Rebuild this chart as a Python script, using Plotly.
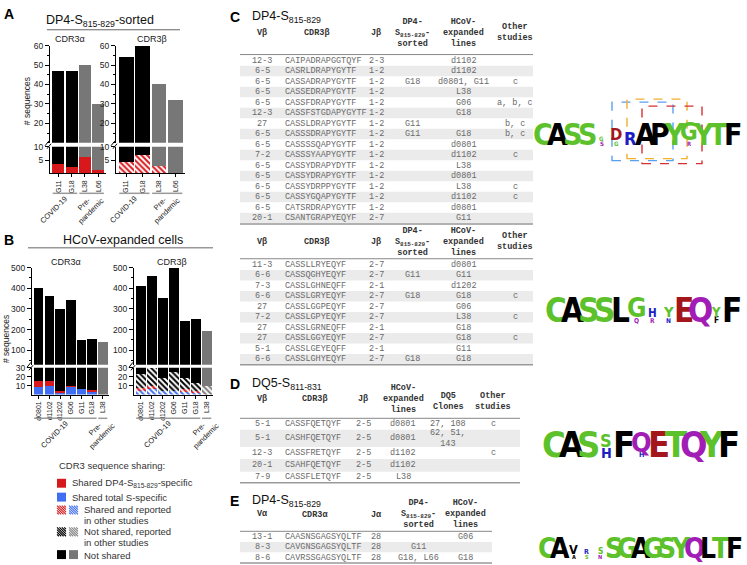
import plotly.graph_objects as go

W, H = 747, 565
def X(p): return p / W
def Y(p): return 1 - p / H

SANS = "Liberation Sans, Arial, Helvetica, sans-serif"
MONO = "Liberation Mono, Courier New, monospace"
NARROW = "Noto Sans ExtraCondensed, Noto Sans Condensed, Liberation Sans Narrow, Arial Narrow, DejaVu Sans Condensed, sans-serif"

RED = "#d7191c"; BLUE = "#3f6ef2"; BLACK = "#000000"; GRAY = "#777777"
LG = "#5cc12a"; LK = "#000000"; LR = "#a3161b"; LB = "#1d1dc6"; LP = "#a11db5"

# ---------------- data: panel A ----------------
A_cats = ["G11", "G18", "L38", "L66"]
A_groups = ["COVID-19", "COVID-19", "Pre-pandemic", "Pre-pandemic"]
A_alpha_total = [47, 47, 50, 30]
A_alpha_shared_dp4 = [3.5, 2.5, 6, 1.2]
A_beta_total = [54, 60, 40, 32]
A_beta_shared_reported = [4.3, 7, 2.7, 0]

# ---------------- data: panel B ----------------
B_cats = ["d0801", "d1102", "d1202", "G06", "G11", "G18", "L38"]
B_groups = ["COVID-19"] * 6 + ["Pre-pandemic"]
B_alpha_total = [400, 365, 300, 343, 150, 155, 138]
B_alpha_shared_S = [8, 10, 2, 9, 6, 4, 0]
B_alpha_shared_dp4 = [7, 5, 2, 1, 0, 1, 0]
B_beta_total = [412, 460, 355, 500, 240, 252, 193]
B_beta_shared_S_reported = [5, 7, 4, 4, 3, 2, 0]
B_beta_shared_dp4_reported = [2, 2, 0, 0, 3, 2, 0]
B_beta_reported_top = [23, 30, 19, 25, 18, 13, 9]

# ---------------- data: panel C ----------------
C1_vb = ["12-3", "6-5", "6-5", "6-5", "6-5", "12-3", "27", "6-5", "6-5", "7-2", "6-5", "6-5", "6-5", "6-5", "6-5", "20-1"]
C1_cdr3 = ["CAIPADRAPGGTQYF", "CASRLDRAPYGYTF", "CASSADRAPYGYTF", "CASSEDRAPYGYTF", "CASSFDRAPYGYTF",
           "CASSFSTGDAPYGYTF", "CASSLDRAPYGYTF", "CASSSDRAPYGYTF", "CASSSSQAPYGYTF", "CASSSYAAPYGYTF",
           "CASSYDRAPYDYTF", "CASSYDRAPYGYTF", "CASSYDRPPYGYTF", "CASSYGQAPYGYTF", "CATSRDRAPYGYTF", "CSANTGRAPYEQYF"]
C1_j = ["2-3"] + ["1-2"] * 14 + ["2-7"]
C1_dp4 = ["", "", "G18", "", "", "", "G11", "G11", "", "", "", "", "", "", "", ""]
C1_hcov = ["d1102", "d1102", "d0801, G11", "L38", "G06", "G18", "", "G18", "d0801", "d1102", "L38", "d0801", "L38", "d1102", "d0801", "G11"]
C1_other = ["", "", "c", "", "a, b, c", "", "b, c", "b, c", "", "c", "", "", "c", "c", "", ""]

C2_vb = ["11-3", "6-6", "7-3", "6-6", "27", "7-2", "27", "27", "5-1", "6-6"]
C2_cdr3 = ["CASSLLRYEQYF", "CASSQGHYEQYF", "CASSLGHNEQFF", "CASSLGRYEQYF", "CASSLGGPEQYF",
           "CASSLGPYEQYF", "CASSLGRNEQFF", "CASSLGGYEQYF", "CASSLGEYEQFF", "CASSLGHYEQYF"]
C2_j = ["2-7", "2-7", "2-1", "2-7", "2-7", "2-7", "2-1", "2-7", "2-1", "2-7"]
C2_dp4 = ["", "G11", "", "G18", "", "", "", "", "", "G18"]
C2_hcov = ["d0801", "G11", "d1202", "G18", "G06", "L38", "G18", "G18", "G11", "G18"]
C2_other = ["", "", "", "c", "", "c", "", "c", "", ""]

# ---------------- data: panel D ----------------
D_vb = ["5-1", "5-1", "12-3", "20-1", "7-9"]
D_cdr3 = ["CASSFQETQYF", "CASHFQETQYF", "CASSFRETQYF", "CSAHFQETQYF", "CASSFLETQYF"]
D_j = ["2-5", "2-5", "2-5", "2-5", "2-5"]
D_hcov = ["d0801", "d0801", "d1102", "d1102", "L38"]
D_clones = ["27, 108", "62, 51,<br>143", "", "", ""]
D_other = ["c", "", "c", "", ""]

# ---------------- data: panel E ----------------
E_va = ["13-1", "8-3", "8-6"]
E_cdr3 = ["CAASNSGAGSYQLTF", "CAVGNSGAGSYQLTF", "CAVRSSGAGSYQLTF"]
E_j = ["28", "28", "28"]
E_dp4 = ["", "G11", "G18, L66"]
E_hcov = ["G06", "", "G18"]

# ---------------- data: sequence logos (letter, colour, relative height), bottom to top ----------------
LOGO1 = [[("C", LG, 1)], [("A", LK, 1)], [("S", LG, 1)], [("S", LG, 1)],
         [("S", LP, 0.2), ("G", LG, 0.2)], [("G", LG, 0.2), ("D", LR, 0.55)], [("R", LB, 0.6)],
         [("A", LK, 1)], [("P", LK, 1)], [("Y", LG, 1)], [("R", LP, 0.2), ("G", LG, 0.8)],
         [("Y", LG, 1)], [("T", LG, 1)], [("F", LK, 1)]]
LOGO2 = [[("C", LG, 1)], [("A", LK, 1)], [("S", LG, 1)], [("S", LG, 1)], [("L", LK, 1)],
         [("Q", LP, 0.2), ("G", LG, 0.8)], [("R", LP, 0.2), ("H", LB, 0.35)], [("N", LB, 0.2), ("Y", LG, 0.45)],
         [("E", LR, 1)], [("Q", LP, 1)], [("F", LK, 0.25), ("Y", LG, 0.4)], [("F", LK, 1)]]
LOGO3 = [[("C", LG, 1)], [("A", LK, 1)], [("S", LG, 1)], [("H", LB, 0.4), ("S", LG, 0.5)],
         [("F", LK, 1)], [("H", LB, 0.2), ("Q", LP, 0.75)], [("E", LR, 1)], [("T", LG, 1)],
         [("Q", LP, 1)], [("Y", LG, 1)], [("F", LK, 1)]]
LOGO4 = [[("C", LG, 1)], [("A", LK, 1)], [("A", LK, 0.2), ("V", LK, 0.45)], [("S", LG, 0.2), ("R", LB, 0.25)],
         [("N", LP, 0.2), ("S", LG, 0.3)], [("S", LG, 1)], [("G", LG, 1)], [("A", LK, 1)], [("G", LG, 1)],
         [("S", LG, 1)], [("Y", LG, 1)], [("Q", LP, 1)], [("L", LK, 1)], [("T", LG, 1)], [("F", LK, 1)]]

fig = go.Figure()
annotations = []
shapes = []
layout_axes = {}

def ann(x, y, text, size=10, color="#222", family=SANS, xanchor="center", yanchor="middle", angle=0, align="center"):
    annotations.append(dict(x=X(x), y=Y(y), xref="paper", yref="paper", text=text, showarrow=False,
                            font=dict(size=size, color=color, family=family), xanchor=xanchor,
                            yanchor=yanchor, textangle=angle, align=align))

def line(x0, y0, x1, y1, color="#888", width=1, dash="solid"):
    shapes.append(dict(type="line", xref="paper", yref="paper", x0=X(x0), x1=X(x1), y0=Y(y0), y1=Y(y1),
                       line=dict(color=color, width=width, dash=dash)))

def rect(x0, y0, x1, y1, fill="rgba(0,0,0,0)", lc="rgba(0,0,0,0)", width=0, dash="solid"):
    shapes.append(dict(type="rect", xref="paper", yref="paper", x0=X(x0), x1=X(x1), y0=Y(y1), y1=Y(y0),
                       fillcolor=fill, line=dict(color=lc, width=width, dash=dash), layer="below" if width == 0 else "above"))

def axn(i, a):
    return a if i == 1 else f"{a}{i}"

def axk(i, a):
    return f"{a}axis" if i == 1 else f"{a}axis{i}"

def grp_colors(groups):
    return [BLACK if g == "COVID-19" else GRAY for g in groups]

def chart(il, iu, xdom, ylow, yup, cats, groups, lowr, lowt, upr, upt, minor_up, segments, group_y):
    n = len(cats)
    xr = [-0.62, n - 0.5 + 0.08]
    tickf = dict(size=7, family=SANS, color="#222")
    layout_axes[axk(il, "x")] = dict(domain=[X(xdom[0]), X(xdom[1])], anchor=axn(il, "y"), range=xr, type="category",
                                     showline=True, linecolor="black", linewidth=1, ticks="outside", ticklen=3,
                                     tickcolor="black", tickangle=-90, tickfont=tickf, showgrid=False, zeroline=False)
    layout_axes[axk(iu, "x")] = dict(domain=[X(xdom[0]), X(xdom[1])], anchor=axn(iu, "y"), range=xr, type="category",
                                     visible=False)
    yf = dict(size=8.5, family=SANS, color="#222")
    layout_axes[axk(il, "y")] = dict(domain=[Y(ylow[1]), Y(ylow[0])], anchor=axn(il, "x"), range=lowr, tickvals=lowt,
                                     showline=True, linecolor="black", linewidth=1, ticks="outside", ticklen=4,
                                     tickcolor="black", tickfont=yf, showgrid=False, zeroline=False)
    layout_axes[axk(iu, "y")] = dict(domain=[Y(yup[1]), Y(yup[0])], anchor=axn(iu, "x"), range=upr, tickvals=upt,
                                     showline=True, linecolor="black", linewidth=1, ticks="outside", ticklen=4,
                                     tickcolor="black", tickfont=yf, showgrid=False, zeroline=False,
                                     minor=dict(dtick=minor_up, tick0=0, ticks="outside", ticklen=2, tickcolor="black"))
    for vals, colors, hatch in segments:
        for i in (il, iu):
            marker = dict(color=colors, line=dict(width=0))
            if hatch:
                marker["pattern"] = dict(shape="\\", fillmode="replace", bgcolor="white", fgcolor=colors,
                                         size=4, solidity=0.5)
            fig.add_trace(go.Bar(x=cats, y=vals, marker=marker, xaxis=axn(i, "x"), yaxis=axn(i, "y"),
                                 showlegend=False, hoverinfo="skip"))
    # break marks
    ax = xdom[0]
    ym = (ylow[0] + yup[1]) / 2
    line(ax - 5, ym + 1, ax - 1, ym - 4, color="black", width=1)
    line(ax - 3, ym + 4, ax + 1, ym - 1, color="black", width=1)
    # group lines and labels
    wpx = xdom[1] - xdom[0]
    def cx(k):
        return xdom[0] + (k - xr[0]) / (xr[1] - xr[0]) * wpx
    pitch = wpx / (xr[1] - xr[0])
    seen = []
    for g in groups:
        if g not in seen:
            seen.append(g)
    for g in seen:
        idx = [k for k, gg in enumerate(groups) if gg == g]
        x0 = cx(idx[0]) - pitch * 0.42
        x1 = cx(idx[-1]) + pitch * 0.42
        line(x0, group_y, x1, group_y, color="#9a9a9a", width=1.5)
        c = (cx(idx[0]) + cx(idx[-1])) / 2
        if g == "COVID-19":
            ann(c - 11, group_y + 16, "COVID-19", size=7.5, angle=-45)
        else:
            ann(c - 4, group_y + 14, "Pre-<br>pandemic", size=7.5, angle=-45)

# Panel A charts
ca = grp_colors(A_groups)
chart(1, 2, (50, 106), (143, 170), (41, 139), A_cats, A_groups, [0, 10], [5, 10], [10, 60],
      [20, 30, 40, 50, 60], 5,
      [(A_alpha_shared_dp4, [RED] * 4, False),
       ([t - r for t, r in zip(A_alpha_total, A_alpha_shared_dp4)], ca, False)], 190)
chart(3, 4, (116, 185), (143, 170), (41, 139), A_cats, A_groups, [0, 10], [5, 10], [10, 60],
      [20, 30, 40, 50, 60], 5,
      [(A_beta_shared_reported, [RED] * 4, True),
       ([t - r for t, r in zip(A_beta_total, A_beta_shared_reported)], ca, False)], 190)

# Panel B charts
cb = grp_colors(B_groups)
chart(5, 6, (32, 109), (366, 393), (265, 363), B_cats, B_groups, [0, 30], [10, 20, 30], [30, 500],
      [100, 200, 300, 400, 500], 50,
      [(B_alpha_shared_S, [BLUE] * 7, False),
       (B_alpha_shared_dp4, [RED] * 7, False),
       ([t - s - d for t, s, d in zip(B_alpha_total, B_alpha_shared_S, B_alpha_shared_dp4)], cb, False)], 417)
chart(7, 8, (134, 213), (366, 393), (265, 363), B_cats, B_groups, [0, 30], [10, 20, 30], [30, 500],
      [100, 200, 300, 400, 500], 50,
      [(B_beta_shared_S_reported, [BLUE] * 7, True),
       (B_beta_shared_dp4_reported, [RED] * 7, True),
       ([r - s - d for r, s, d in zip(B_beta_reported_top, B_beta_shared_S_reported, B_beta_shared_dp4_reported)], cb, True),
       ([t - r for t, r in zip(B_beta_total, B_beta_reported_top)], cb, False)], 417)

# Panel titles
ann(2, 9, "<b>A</b>", size=14, color="black", xanchor="left")
ann(100, 16, "DP4-S<sub>815-829</sub>-sorted", size=12.5, color="#111")
line(47, 25, 180, 25, color="#666", width=1)
ann(70, 34, "CDR3α", size=9)
ann(152, 34, "CDR3β", size=9)
ann(27, 97, "# sequences", size=8.5, angle=-90)

ann(2, 237, "<b>B</b>", size=14, color="black", xanchor="left")
ann(123, 237, "HCoV-expanded cells", size=12.5, color="#111")
line(28, 245, 213, 245, color="#666", width=1)
ann(66, 259, "CDR3α", size=9)
ann(172, 259, "CDR3β", size=9)
ann(6, 337, "# sequences", size=8.5, angle=-90)

# Legend for bar charts
def hatch_square(x0, y0, s, color):
    rect(x0, y0, x0 + s, y0 + s, fill="white")
    step = 2.4
    k = -6
    while k <= 6:
        d = k * step
        u0 = max(0, d); u1 = min(s, s + d)
        if u1 - u0 > 0.4:
            line(x0 + u0, y0 + u0 - d, x0 + u1, y0 + u1 - d, color=color, width=1.1)
        k += 1

LEGF = 9.5
ann(57, 465, "CDR3 sequence sharing:", size=LEGF, xanchor="left", color="#333")
rect(57, 478, 66, 487, fill=RED)
ann(70, 482.5, "Shared DP4-S<sub>815-829</sub>-specific", size=LEGF, xanchor="left", color="#333")
rect(57, 492, 66, 501, fill=BLUE)
ann(70, 496.5, "Shared total S-specific", size=LEGF, xanchor="left", color="#333")
hatch_square(57, 505, 9, RED)
hatch_square(69, 505, 9, BLUE)
ann(82, 509.5, "Shared and reported", size=LEGF, xanchor="left", color="#333")
ann(82, 520, "in other studies", size=LEGF, xanchor="left", color="#333")
hatch_square(57, 527, 9, BLACK)
hatch_square(69, 527, 9, "#888888")
ann(82, 531.5, "Not shared, reported", size=LEGF, xanchor="left", color="#333")
ann(82, 542, "in other studies", size=LEGF, xanchor="left", color="#333")
rect(57, 550, 66, 559, fill=BLACK)
rect(69, 550, 78, 559, fill=GRAY)
ann(82, 555, "Not shared", size=LEGF, xanchor="left", color="#333")

# ---------------- tables ----------------
TF = 8.5
ROWC = "#6a6a6a"
HEADC = "#333"
SHADE = "#ebebeb"

def header(x, y, text):
    ann(x, y, "<b>" + text + "</b>", size=TF, family=MONO, color=HEADC)

def row_text(x, y, text, left=False):
    if text:
        ann(x, y, text, size=TF, family=MONO, color=ROWC, xanchor="left" if left else "center")

def simple_table(cols, y0, pitch, xl, xr):
    nrows = len(cols[0][1])
    for i in range(nrows):
        y = y0 + i * pitch
        if i % 2 == 1:
            rect(xl, y - pitch / 2, xr, y + pitch / 2, fill=SHADE)
        for x, vals, left in cols:
            row_text(x, y, vals[i], left)

ann(228, 12, "<b>C</b>", size=14, color="black", xanchor="left")
ann(250, 12, "DP4-S<sub>815-829</sub>", size=12.5, color="#111", xanchor="left")
for yh in (28, 239):
    header(262, yh, "Vβ"); header(317, yh, "CDR3β"); header(376, yh, "Jβ")
    header(412, yh, "DP4-<br>S<sub>815-829</sub>-<br>sorted")
    header(464, yh, "HCoV-<br>expanded<br>lines")
    header(515, yh, "Other<br>studies")
line(240, 50, 533, 50, color="#888", width=1)
simple_table([(262, C1_vb, False), (283, C1_cdr3, True), (376, C1_j, False), (412, C1_dp4, False),
              (464, C1_hcov, False), (515, C1_other, False)], 56, 10.6, 240, 533)
line(240, 221, 533, 221, color="#999", width=1.5)
line(240, 256, 533, 256, color="#888", width=1)
simple_table([(262, C2_vb, False), (283, C2_cdr3, True), (376, C2_j, False), (412, C2_dp4, False),
              (464, C2_hcov, False), (515, C2_other, False)], 262, 10.6, 240, 533)
line(240, 363, 533, 363, color="#999", width=1.5)

# Panel D
ann(228, 382, "<b>D</b>", size=14, color="black", xanchor="left")
ann(250, 382, "DQ5-S<sub>811-831</sub>", size=12.5, color="#111", xanchor="left")
header(262, 398, "Vβ"); header(315, 398, "CDR3β"); header(363, 398, "Jβ")
header(403, 398, "HCoV-<br>expanded<br>lines")
header(448, 400, "DQ5<br>Clones")
header(493, 400, "Other<br>studies")
line(240, 417, 520, 417, color="#888", width=1)
D_y = [422.7, 437.2, 452, 464.5, 476.7]
D_bounds = [(417, 428.5), (428.5, 446), (446, 458), (458, 471), (471, 482)]
for i in range(len(D_vb)):
    if i % 2 == 1:
        rect(240, D_bounds[i][0], 520, D_bounds[i][1], fill=SHADE)
    row_text(262, D_y[i], D_vb[i]); row_text(283, D_y[i], D_cdr3[i], True); row_text(363, D_y[i], D_j[i])
    row_text(403, D_y[i], D_hcov[i]); row_text(448, D_y[i], D_clones[i]); row_text(493, D_y[i], D_other[i])
line(240, 482, 520, 482, color="#999", width=1.5)

# Panel E
ann(228, 500, "<b>E</b>", size=14, color="black", xanchor="left")
ann(250, 500, "DP4-S<sub>815-829</sub>", size=12.5, color="#111", xanchor="left")
header(262, 514, "Vα"); header(315, 515, "CDR3α"); header(376, 515, "Jα")
header(418, 514, "DP4-<br>S<sub>815-829</sub>-<br>sorted")
header(465, 514, "HCoV-<br>expanded<br>lines")
line(240, 531, 492, 531, color="#888", width=1)
simple_table([(262, E_va, False), (283, E_cdr3, True), (376, E_j, False), (418, E_dp4, False),
              (465, E_hcov, False)], 536.5, 10.5, 240, 492)
line(240, 563, 492, 563, color="#999", width=1.5)

# ---------------- logos ----------------
def logo(positions, x_start, pitch, baseline, base_size):
    for i, stack in enumerate(positions):
        xc = x_start + pitch * (i + 0.5)
        yb = baseline
        for letter, color, rel in stack:
            size = base_size * rel
            ann(xc, yb + 0.21 * size + 1, "<b>" + letter + "</b>", size=size, color=color, family=NARROW,
                yanchor="bottom")
            yb -= 0.72 * size + 0.5

logo(LOGO1, 536, 14.6, 143, 30)
logo(LOGO2, 548, 16.0, 322, 33)
logo(LOGO3, 545, 17.5, 458, 36)
logo(LOGO4, 540, 13.4, 560, 28)

# dashed motif boxes on first logo
rect(612, 98, 673, 157, lc="#5aa0f0", width=1.4, dash="dash")
rect(627, 95, 687, 155, lc="#f0b030", width=1.4, dash="dash")
rect(642, 102, 702, 160, lc="#d83030", width=1.4, dash="dash")

fig.update_layout(width=W, height=H, margin=dict(l=0, r=0, t=0, b=0), paper_bgcolor="white",
                  plot_bgcolor="white", barmode="stack", bargap=0.1, showlegend=False,
                  annotations=annotations, shapes=shapes, font=dict(family=SANS), **layout_axes)

fig.write_html("out.html", config={"displayModeBar": False},
               post_script="document.body.style.margin='0px';document.body.style.overflow='hidden';")
